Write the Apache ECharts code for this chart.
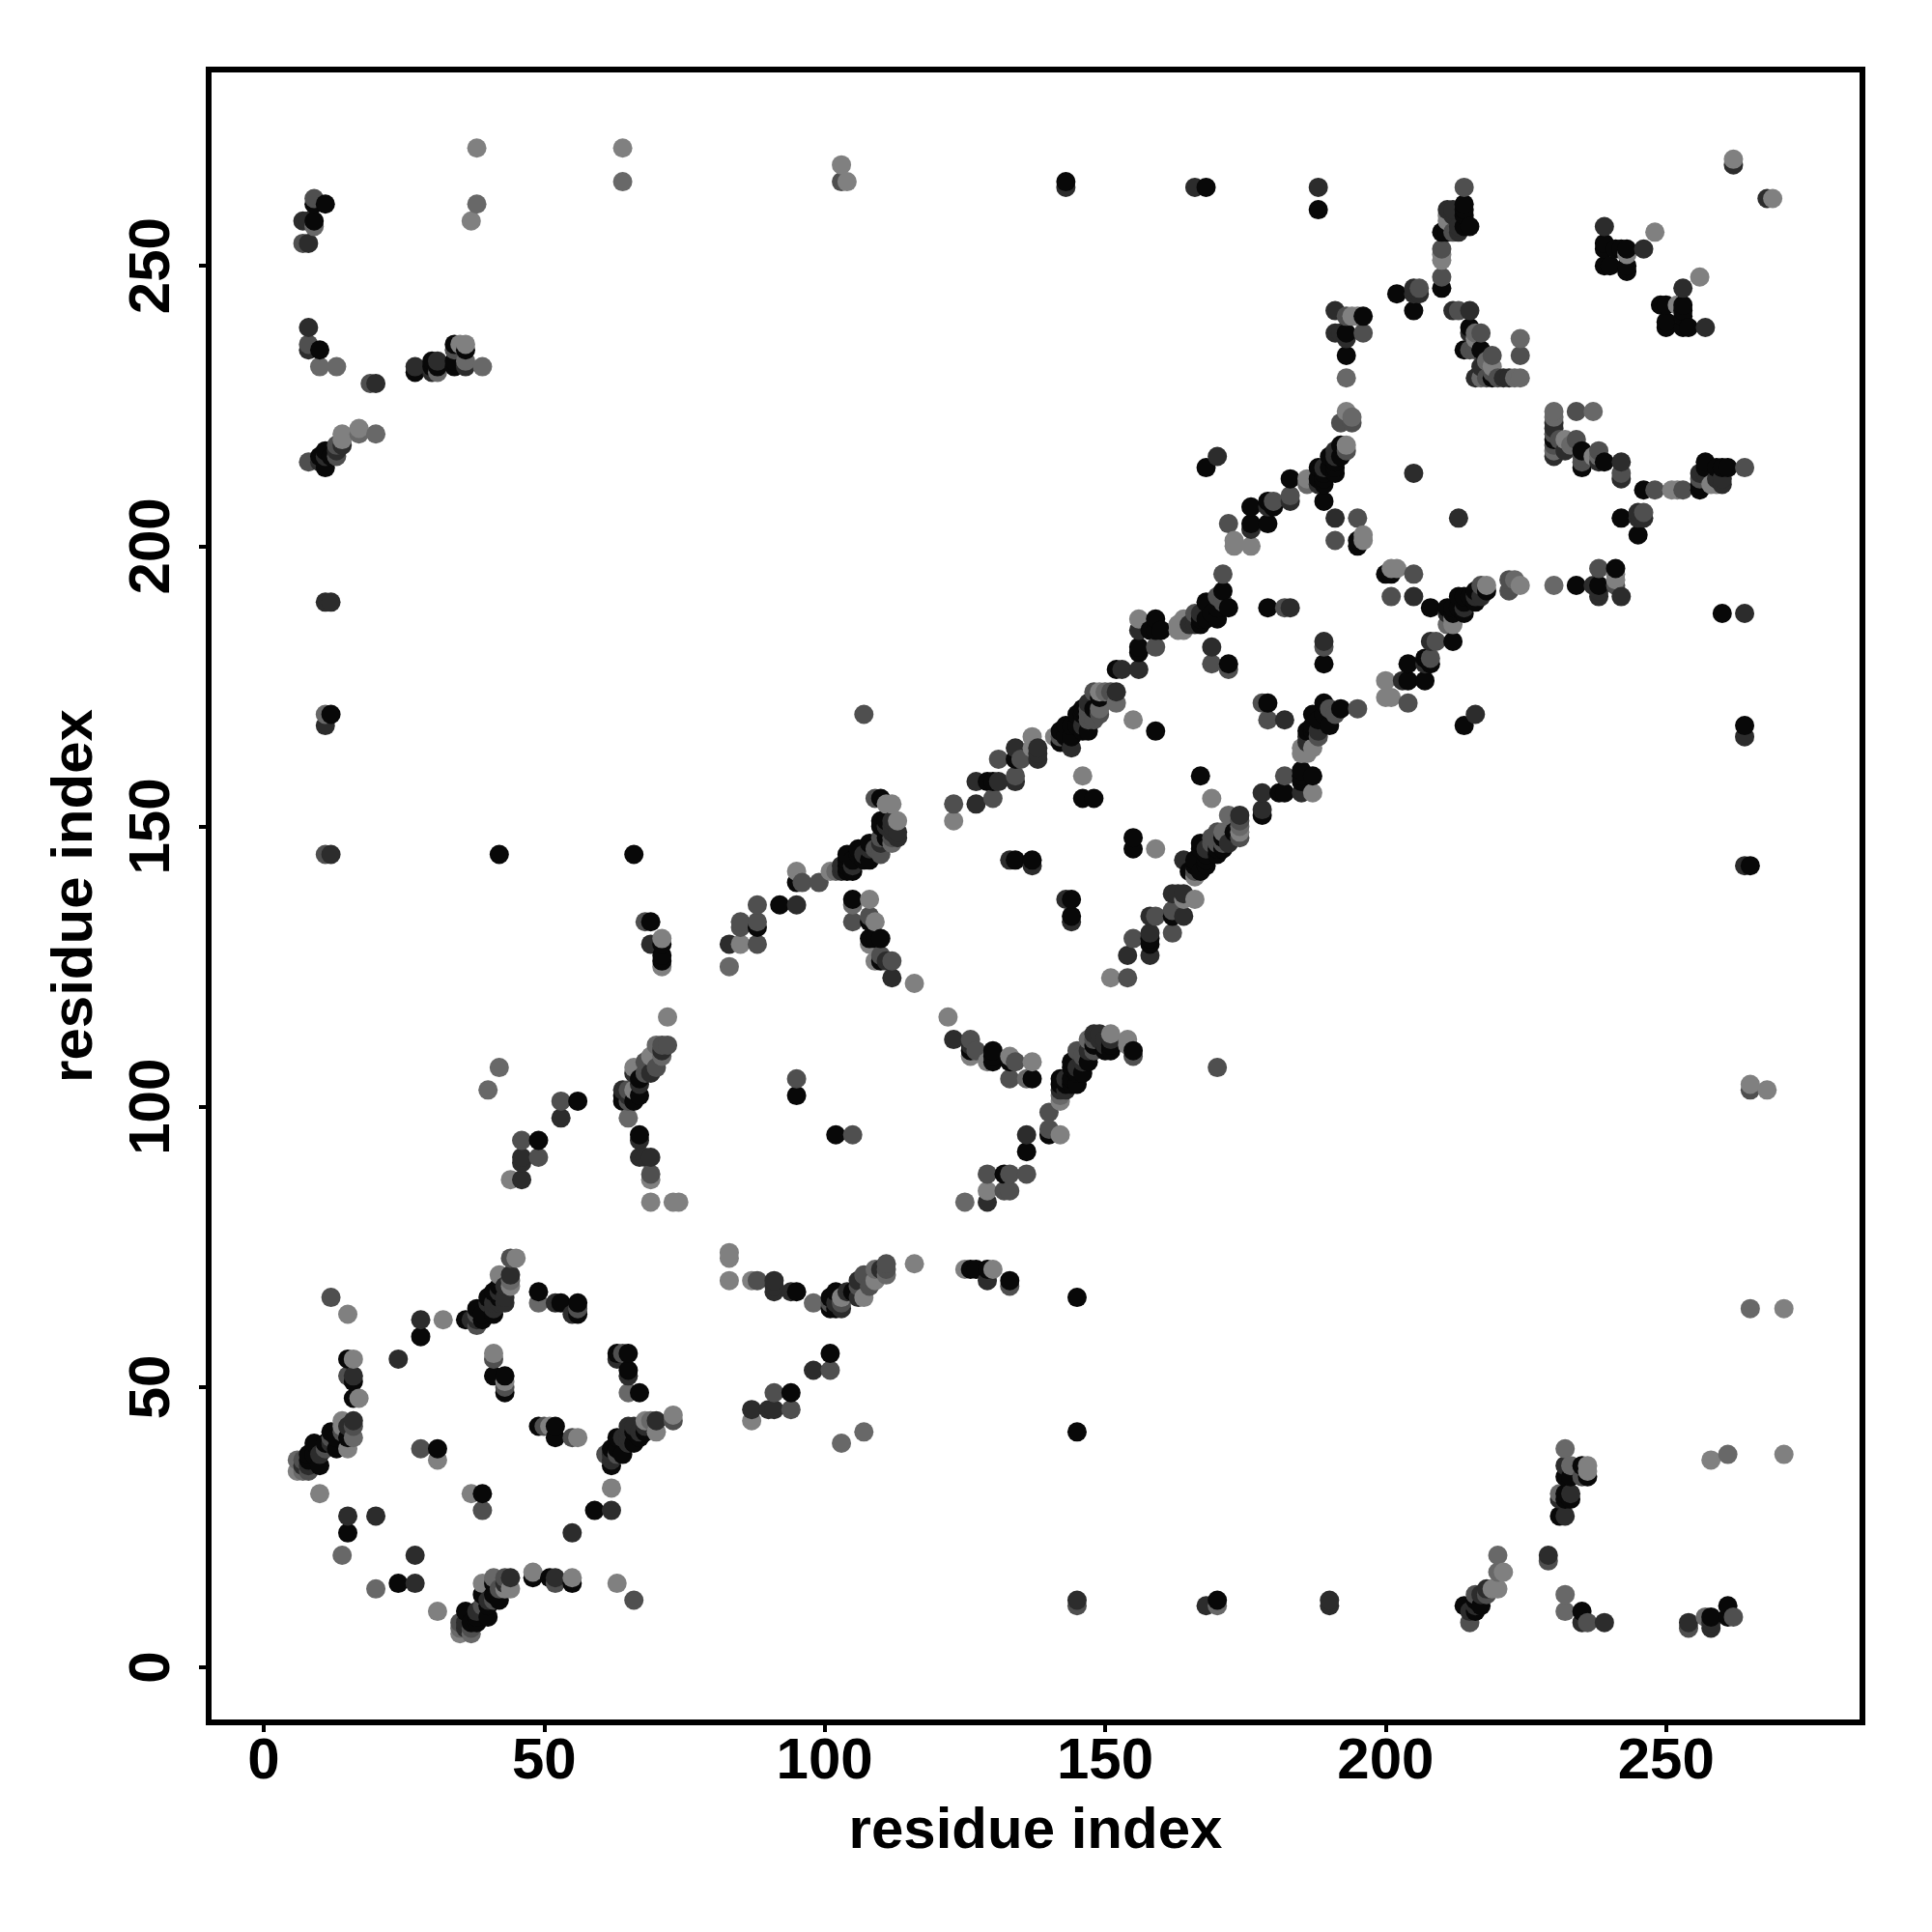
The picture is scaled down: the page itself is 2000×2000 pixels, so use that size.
<!DOCTYPE html>
<html>
<head>
<meta charset="utf-8">
<style>html,body{margin:0;padding:0;background:#fff}#c{width:2000px;height:2000px}</style>
<script src="https://cdn.jsdelivr.net/npm/echarts@6/dist/echarts.min.js"></script>
</head>
<body>
<div id="c"></div>
<script>
const shades = ['#080808', '#2c2c2c', '#4f4f4f', '#686868', '#808080'];
const tickValues = [0, 50, 100, 150, 200, 250];
const axisTitle = 'residue index';
// contact pairs [residue, residue, shade index]; the map is symmetric about its diagonal
const block1 = [
[35,6,4],[37,6,3],[35,7,3],[36,7,1],[37,7,2],[35,8,2],[36,8,1],[37,8,0],[38,8,0],[38,9,0],[40,9,0],[36,10,0],[38,10,1],[39,11,2],[40,11,0],[40,12,1],[41,12,2],[42,12,0],[39,13,0],[41,13,0],[42,14,2],[43,14,4],[44,14,4],[39,15,4],[41,15,0],[43,15,1],[41,16,3],[43,16,2],[44,16,1],
[48,17,4],[48,16,0],[51,16,0],[52,16,1],[52,15,2],[55,16,4],[55,15,0],[63,15,4],[66,12,2],[31,10,4],[24,15,0],[27,15,1],[27,20,1],[20,14,3],[20,27,1],[55,24,1],[59,28,0],[62,28,1],[62,32,4],[39,31,0],[37,31,4],[39,28,2],
[49,43,0],[50,43,2],[51,43,4],[52,43,0],[52,41,0],[55,41,2],[56,41,4],
[61,38,2],[62,36,0],[62,37,1],[62,38,1],[62,39,0],[63,38,2],[63,39,0],[63,41,0],[64,38,0],[64,41,1],[65,40,1],[65,41,1],[65,42,1],[65,43,1],[66,40,0],[66,42,0],[66,43,1],[67,41,0],[67,42,1],[68,42,0],[68,43,1],[68,44,4],[69,44,3],[70,44,1],[70,42,4],[73,45,4],[73,44,2],
[63,55,1],[63,56,0],[64,56,2],[65,56,0],[65,53,0],[65,52,1],[65,49,3],[67,49,0]
];
const bandLow = [
[83,74,4],[83,73,4],[83,69,4],[87,69,4],[88,69,2],[91,69,1],[91,68,1],[91,67,1],[94,67,2],[95,67,0],[98,65,3],
[101,64,0],[102,64,0],[103,64,1],[101,65,2],[102,65,1],[103,65,2],[101,66,0],[103,66,4],[102,67,0],[104,67,1],[105,67,0],[106,68,2],[108,68,2],[107,66,4],[106,66,1],[107,70,2],[106,69,1],[109,69,4],[109,71,3],[110,71,1],[111,72,2],[111,71,2],[111,70,3],[116,72,4],[125,71,4],[126,71,0],[129,71,1],[129,69,1],[130,71,3],[133,69,0],[133,68,2],[145,66,0],
[87,44,4],[87,46,1],[90,46,1],[91,46,1],[91,49,2],[94,46,2],[94,49,0],[98,53,1],[101,53,2],[101,56,0],[103,40,3],[107,42,3],[145,42,0],
[125,83,3],[129,83,1],[129,85,4],[132,85,2],[129,88,2],[132,88,0],[133,88,2],[136,88,2],[136,95,1],[136,92,0],[140,99,2],[140,96,2],[140,95,1],[142,95,4],[102,95,0],[105,95,2]
];
const bandMid = [
[123,112,1],[126,112,2],[126,110,0],[126,109,4],[127,110,2],[129,108,4],[130,110,0],[130,109,0],[130,108,1],[133,109,4],[134,108,2],[133,108,0],[137,108,4],[133,105,2],[136,105,4],[137,105,0],[122,116,4],
[142,102,2],[142,103,0],[142,105,0],[143,103,1],[143,104,0],[144,108,0],[144,105,0],[145,104,0],[145,106,0],[146,106,1],[147,108,0],[146,109,2],[145,110,2],[147,110,1],[147,112,3],[148,110,0],[149,113,1],[148,112,2],[150,112,1],[151,113,4],[151,110,0],[151,111,1],[150,111,1],[154,111,4],[155,110,0],[155,109,2],[146,108,4],
[83,125,3],[83,129,1],[85,129,4],[88,129,2],[85,133,2],[88,132,0],[88,133,2],[88,136,2],[92,136,0],[95,136,1],[95,140,0],[95,142,4],[96,140,2],[99,140,2],
[101,142,4],[102,142,3],[103,142,1],[104,142,0],[105,143,1],[104,144,0],[105,144,0],[106,146,0],[107,144,0],[107,145,1],[108,146,1],[109,146,2],[108,147,0],[110,148,2],[110,150,0],[111,148,0],[112,149,1],[113,151,4],[113,149,1],[113,148,1],[111,151,0],[112,151,1],[110,155,0],[109,155,2],[112,154,4],[110,151,0],
[105,136,3],[105,137,0],[108,137,4],[105,133,2],[108,134,2],[109,133,4],[108,130,0],[110,130,0],[108,129,4],[112,126,2],[109,126,4],[110,126,0],[111,126,1],[112,123,1],[116,122,4],
[68,133,2],[69,133,0],[69,129,1],[71,129,0],[71,130,4],[71,127,0],[71,125,4],
[72,116,4],[46,94,2],[49,94,0],[49,91,2],[46,91,1],[46,90,1],[44,87,4],[46,87,1],[53,101,2],[56,101,0],[53,98,1],
[67,95,0],[67,94,1],[67,91,1],[69,91,1],[69,88,2],[69,87,4],[69,83,4],[73,83,4],[74,83,4],
[123,154,2],[123,151,4],[170,107,2]
];
const bandHigh = [
[154,127,1],[158,127,1],[155,130,2],[158,131,1],[158,129,0],[162,131,2],[158,134,1],[159,134,2],[162,135,2],[162,134,0],[164,134,1],[162,138,1],[163,138,1],[164,138,1],[166,137,4],[164,144,2],[166,141,3],[166,142,2],[166,144,0],[165,142,0],[167,142,0],[167,146,0],[168,144,0],[169,148,0],[170,145,0],[171,149,3],[172,147,1],[174,152,1],[172,152,2],[174,150,2],[174,148,2],[173,149,0],[170,147,2],[168,146,0],[171,146,0],[170,149,1],
[178,156,1],[178,152,0],[178,153,1],[181,156,0],[182,156,0],[185,156,1],[182,159,2],[185,160,0],[185,159,0],[185,158,0],[187,159,0],[187,156,4],
[195,171,2],[192,171,0],[189,172,0],[190,171,2],[191,170,2],[190,168,0],[187,168,0],[186,167,0],[188,167,1],[185,163,4],[186,163,4],[185,164,4],[187,164,4],[186,164,4],[186,165,1],[188,166,2],[187,167,0],[188,169,0],[189,170,0],[187,170,0],[186,166,1],
[179,172,0],[178,172,2],[179,169,2],[182,169,1],
[137,166,4],[137,164,4],[138,164,1],[138,162,1],[141,166,4],[142,166,2],[143,168,0],[143,166,0],[144,164,1],[145,170,0],[145,168,0],[146,167,0],[147,169,2],[148,169,2],[147,171,2],[148,174,2],[149,170,2],[149,174,4],[150,174,3],[151,174,2],[152,174,1],[152,172,3],[148,171,0],[146,170,0],[146,168,1],[147,167,0],
[159,146,4],[155,146,0],[155,148,0],[144,133,1],[144,134,0],[144,137,0],[143,137,1],[167,159,0],[169,155,4],
[134,159,2],[134,158,1],[131,158,1],[130,158,0],[127,154,1],[130,155,2],[134,162,0],[135,162,2],[131,162,2]
];
const bandTop = [
[168,214,0],[170,216,1],[172,204,2],[176,207,0],[176,204,0],[176,203,1],[179,204,0],[173,201,4],[173,200,4],[176,200,4],[179,208,1],[180,208,2],[180,207,1],[183,209,2],[183,208,1],[183,212,0],[186,212,4],[188,214,0],[188,212,0],[190,216,0],[190,214,0],[191,213,0],[191,214,0],[193,218,4],[192,218,1],[192,216,0],[192,222,2],[193,224,4],[194,223,4],[194,222,1],[189,212,0],[186,211,3],[187,212,2],[189,214,1],[191,216,1],
[189,208,0],[191,205,1],[195,205,2],[191,201,2],[195,201,0],[196,202,4],[205,213,1],[189,179,0],[189,182,2],[189,183,1],
[201,196,4],[200,195,0],[205,195,2],[201,191,2],[205,191,1],[208,189,0],[212,183,0],[208,183,1],[209,183,2],[204,179,0],[208,180,2],[207,180,0],[208,179,0],[207,179,1],[207,176,0],[204,176,0],[203,176,1],[200,176,4],[200,173,4],[201,173,4],[204,172,2],
[230,193,3],[224,193,4],[222,194,2],[222,192,2],[223,194,3],[218,193,4],[217,193,2],[218,192,0],[217,191,1],[216,190,0],[215,191,0],[214,188,0],[213,191,0],[213,189,0],[212,187,4],[212,186,4],[211,188,1],[211,189,0],
[234,193,0],[238,196,2],[241,196,0],[241,194,4],[241,193,2],[238,193,0],[237,193,1],[238,191,1],[242,191,0],
[188,264,1],[188,260,0],[214,264,3],[214,260,0],[214,259,0],[211,259,0],[212,259,1],[211,258,4],[210,256,0],[211,256,0],[213,256,2],[213,257,1],[214,257,0],[215,257,0],[210,252,3],[210,251,4],[210,248,2],[210,246,0],[202,245,0],[205,246,1],[206,246,2],[205,245,1],[205,242,0],[213,242,2],[215,242,1],[215,238,0],[216,237,4],[216,238,3],[217,238,2],[215,235,0],[216,235,2],[217,235,0],[219,234,2],[217,232,1],[219,232,4],[217,230,1],[218,230,2],[219,230,0],[220,230,2],[221,230,1],[222,230,1],[223,230,1],[224,230,3],[224,234,2],[224,237,3],
[191,242,1],[193,241,2],[195,241,4],[196,241,0],[191,238,1],[192,238,1],[193,238,0],[196,238,2],[193,237,1],[193,234,0],[193,230,3],
[230,224,3],[230,223,3],[230,222,1],[230,221,1],[230,219,0],[230,217,3],[230,216,1],[234,224,2],[237,224,3],[231,219,2],[232,217,1],[232,219,4],[234,219,2],[233,218,3],[235,217,0],[235,215,2],[235,214,0],[238,217,2],[238,215,1],[239,215,0],[242,215,1],[242,212,1],
[246,210,0],[248,210,2],[252,210,4],[253,210,2],[256,210,0],[256,212,2],[257,215,0],[256,213,1],[260,214,0],[261,214,0],[264,214,2],[260,211,1],[259,211,4],[260,212,1],
[242,205,0],[245,206,1],[246,206,2],[245,205,1],[245,202,0],[260,188,0],[264,188,1],
[239,257,1],[239,254,0],[239,253,0],[239,250,0],[240,250,0],[242,253,0],[243,253,0],[243,252,4],[243,249,0],[243,250,1],[246,253,1],[248,256,4],
[253,246,1],[256,248,4],[249,243,0],[250,243,0],[252,243,4],[253,243,0],[253,241,0],[250,239,0],[250,240,0],[253,239,0],[254,239,0],[257,239,1],[268,262,1],[269,262,4]
];
const farContacts = [
[264,143,1],[265,143,0],[264,168,1],[264,166,1],[265,104,4],[265,103,2],[268,103,4],[265,64,3],[271,64,4],[271,38,4],[261,38,3],[258,37,4],
[166,264,1],[168,264,0],[145,12,1],[145,11,2],[168,11,1],[170,11,3],[170,12,0],[190,12,1],[190,11,1],
[254,8,1],[254,7,2],[257,9,3],[258,9,0],[258,7,1],[258,8,1],[261,11,0],[261,9,0],[262,9,2],[239,8,1],[235,8,1],[236,8,2],[235,10,0],[232,10,3],[232,13,3],
[229,20,1],[229,19,2],[220,20,3],[220,17,3],[221,17,4],[231,27,0],[232,27,1],[231,30,1],[232,30,0],[231,31,3],[232,31,0],[233,31,1],[233,30,0],[232,34,0],[233,34,0],[232,36,1],[233,36,3],[232,39,3],[235,36,0],[236,36,4],[236,35,4],[236,34,0],[235,34,2],
[214,11,0],[215,8,2],[215,10,1],[216,10,0],[216,11,1],[216,12,0],[217,11,0],[217,13,1],[218,13,2],[218,14,1],[219,14,4],[220,14,4],[216,13,2]
];
const unique = new Map();
[block1, bandLow, bandMid, bandHigh, bandTop, farContacts].forEach(function (list) {
  list.forEach(function (c) {
    const a = Math.min(c[0], c[1]), b = Math.max(c[0], c[1]);
    unique.set(a + ',' + b, [a, b, c[2]]);
  });
});
const points = [];
unique.forEach(function (c) { points.push([c[0], c[1], c[2]]); points.push([c[1], c[0], c[2]]); });
points.sort(function (p, q) { return p[0] - q[0] || p[1] - q[1]; });

const font = { fontFamily: 'Liberation Sans', fontWeight: 'bold', color: '#000' };
function axis(extra) {
  return Object.assign({
    type: 'value', min: -9.8, max: 285, nameLocation: 'middle', name: axisTitle,
    nameTextStyle: Object.assign({ fontSize: 60 }, font),
    splitLine: { show: false },
    axisLine: { show: false, onZero: false },
    axisTick: { show: true, length: 10, lineStyle: { color: '#000', width: 4 }, customValues: tickValues }
  }, extra);
}
const chart = echarts.init(document.getElementById('c'), null, { renderer: 'canvas' });
chart.setOption({
  animation: false,
  backgroundColor: '#fff',
  grid: { left: 216, top: 72, width: 1712, height: 1711, show: true, borderColor: '#000', borderWidth: 6, backgroundColor: 'transparent' },
  xAxis: axis({ nameGap: 83, axisLabel: Object.assign({ fontSize: 60, margin: 11, customValues: tickValues }, font) }),
  yAxis: axis({ nameGap: 108, nameRotate: 90, axisLabel: Object.assign({ fontSize: 60, rotate: 90, margin: 28, customValues: tickValues }, font) }),
  series: [{
    type: 'scatter', symbol: 'circle', symbolSize: 20, silent: true,
    data: points,
    itemStyle: { opacity: 1, color: function (p) { return shades[p.data[2]]; } }
  }]
});
</script>
</body>
</html>
